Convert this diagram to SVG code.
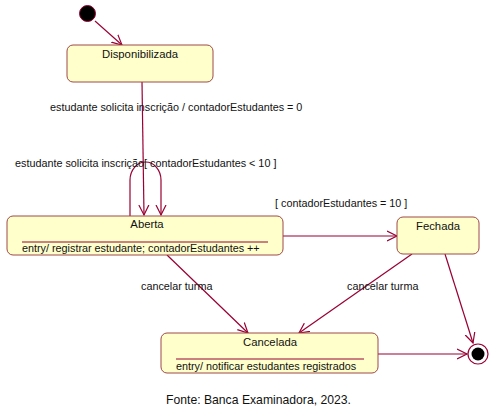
<svg xmlns="http://www.w3.org/2000/svg" width="497" height="410" viewBox="0 0 497 410">
<style>
.box{fill:#ffffcc;stroke:#a04848;stroke-width:1}
.div{stroke:#990033;stroke-width:1}
.c{fill:none;stroke:#990033;stroke-width:1.2}
text{font-family:"Liberation Sans",Arial,sans-serif;font-size:10.8px;fill:#111}
.ttl{text-anchor:middle;font-size:11.3px}
.cap{font-size:12.2px}
</style>
<defs>
<marker id="a" markerWidth="12" markerHeight="12" refX="10" refY="5" orient="auto" markerUnits="userSpaceOnUse" viewBox="0 0 12 10">
<polyline points="0,0 10,5 0,10" fill="none" stroke="#990033" stroke-width="1.2"/>
</marker>
</defs>
<rect width="497" height="410" fill="#fff"/>
<g id="connectors">
<line class="c" x1="95" y1="21" x2="122" y2="45" marker-end="url(#a)"/>
<line class="c" x1="142" y1="82" x2="144" y2="215" marker-end="url(#a)"/>
<path class="c" d="M130,216 L130,180 A15.5,18 0 0 1 161,180 L161,215" marker-end="url(#a)"/>
<line class="c" x1="283" y1="236" x2="397" y2="236" marker-end="url(#a)"/>
<line class="c" x1="167" y1="255" x2="248" y2="333" marker-end="url(#a)"/>
<line class="c" x1="412" y1="254" x2="299" y2="333" marker-end="url(#a)"/>
<line class="c" x1="445" y1="254" x2="473" y2="343" marker-end="url(#a)"/>
<line class="c" x1="378" y1="354" x2="467" y2="354" marker-end="url(#a)"/>
<text x="50" y="111">estudante solicita inscrição / contadorEstudantes = 0</text>
<text x="15" y="167">estudante solicita inscrição[ contadorEstudantes &lt; 10 ]</text>
<text x="275" y="207">[ contadorEstudantes = 10 ]</text>
<text x="141" y="290">cancelar turma</text>
<text x="347" y="290">cancelar turma</text>
</g>
<g id="initial"><circle cx="87.5" cy="13.5" r="8" fill="#000" stroke="#990033" stroke-width="1"/></g>
<g id="disponibilizada">
<rect class="box" x="67" y="45" width="146" height="37" rx="6"/>
<text class="ttl" x="140" y="58">Disponibilizada</text>
</g>
<g id="aberta">
<rect class="box" x="7" y="216" width="276" height="39" rx="6"/>
<text class="ttl" x="147" y="228">Aberta</text>
<line class="div" x1="22" y1="242" x2="268" y2="242"/>
<text x="22" y="252">entry/ registrar estudante; contadorEstudantes ++</text>
</g>
<g id="fechada">
<rect class="box" x="397" y="217" width="82" height="37" rx="6"/>
<text class="ttl" x="438" y="230">Fechada</text>
</g>
<g id="cancelada">
<rect class="box" x="161" y="333" width="217" height="40" rx="6"/>
<text class="ttl" x="270" y="346">Cancelada</text>
<line class="div" x1="176" y1="359" x2="364" y2="359"/>
<text x="176" y="370">entry/ notificar estudantes registrados</text>
</g>
<g id="final">
<circle cx="478" cy="354" r="10" fill="#fff" stroke="#990033" stroke-width="1.2"/>
<circle cx="478" cy="354" r="6.5" fill="#000"/>
</g>
<text class="cap" x="166" y="404">Fonte: Banca Examinadora, 2023.</text>
</svg>
